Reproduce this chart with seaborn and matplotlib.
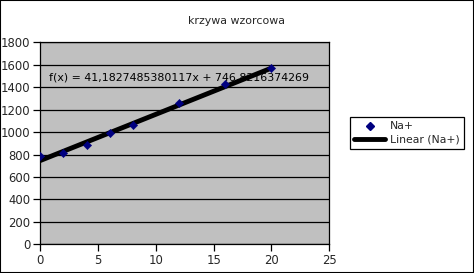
import numpy as np
import pandas as pd
import matplotlib
matplotlib.use("Agg")
import matplotlib.pyplot as plt
import seaborn as sns
from matplotlib.lines import Line2D
from matplotlib.patches import Rectangle

# data
conc = [0, 2, 4, 6, 8, 12, 16, 20]
na_plus = [787, 817, 882, 989, 1060, 1256, 1429, 1571]
slope = 41.1827485380117
intercept = 746.8216374269
equation = "f(x) = 41,1827485380117x + 746,8216374269"
title = "krzywa wzorcowa"
xticks = [0, 5, 10, 15, 20, 25]
yticks = [0, 200, 400, 600, 800, 1000, 1200, 1400, 1600, 1800]

sns.set_style("white")
plt.rcParams['font.family'] = ['DejaVu Sans']

fig = plt.figure(figsize=(4.74, 2.73), dpi=100)
fig.patch.set_facecolor("white")
ax = fig.add_axes([0.085, 0.105, 0.6097, 0.740])
ax.set_facecolor("#c0c0c0")

df = pd.DataFrame({"x": conc, "y": na_plus})
fit_x = [min(conc), max(conc)]
fit_df = pd.DataFrame({"x": fit_x, "y": [intercept + slope * v for v in fit_x]})

sns.lineplot(data=fit_df, x="x", y="y", ax=ax, color="black", linewidth=3.5, zorder=3)
sns.scatterplot(data=df, x="x", y="y", ax=ax, marker="D", color="#000080",
                edgecolor="#000080", s=18, zorder=4)

ax.set_xlim(0, 25)
ax.set_ylim(0, 1800)
ax.set_xticks(xticks)
ax.set_yticks(yticks)
ax.set_xlabel("")
ax.set_ylabel("")
ax.grid(axis="y", color="black", linewidth=0.9)
ax.set_axisbelow(True)
for s in ax.spines.values():
    s.set_color("black")
    s.set_linewidth(0.9)
ax.tick_params(axis="both", which="both", direction="out", length=5, width=0.9,
               color="black", labelsize=8.4, pad=2, left=True, bottom=True)

ax.text(0.75, 1484, equation, fontsize=7.9, color="black", va="center", ha="left", zorder=2)

fig.text(0.5, 0.922, title, ha="center", va="center", fontsize=7.9)

handles = [Line2D([], [], marker="D", color="#000080", linestyle="none", markersize=3.6),
           Line2D([], [], color="black", linewidth=3.5)]
leg = fig.legend(handles, ["Na+", "Linear (Na+)"], loc="upper left",
                 bbox_to_anchor=(350 / 474, 1 - 117 / 273), fontsize=7.8,
                 frameon=True, fancybox=False, edgecolor="black", framealpha=1,
                 handlelength=2.8, borderpad=0.4, labelspacing=0.3, handletextpad=0.5,
                 borderaxespad=0)
leg.get_frame().set_linewidth(0.9)

fig.patches.append(Rectangle((0, 0), 1, 1, transform=fig.transFigure, fill=False,
                             edgecolor="black", linewidth=1.5))

fig.savefig("out.png", dpi=100)
